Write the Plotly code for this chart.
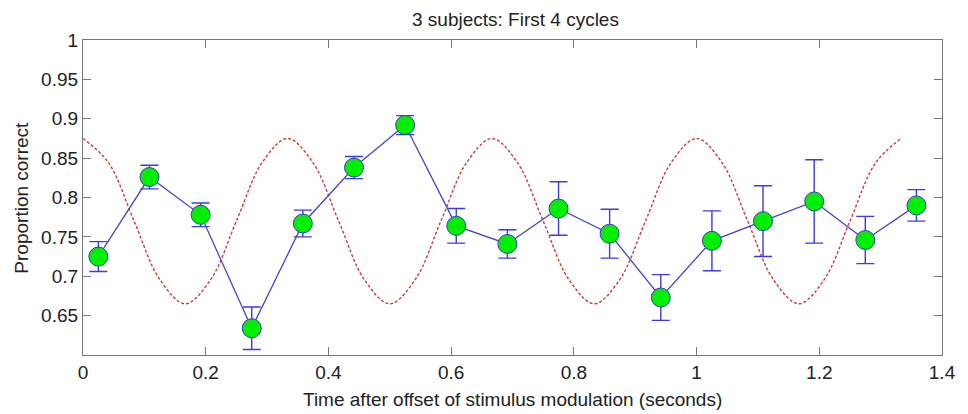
import plotly.graph_objects as go

# Data
time_s = [0.025, 0.1083, 0.1917, 0.275, 0.3583, 0.4417, 0.525, 0.6083, 0.6917,
          0.775, 0.8583, 0.9417, 1.025, 1.1083, 1.1917, 1.275, 1.3583]
prop_correct = [0.725, 0.826, 0.778, 0.634, 0.767, 0.838, 0.892, 0.764, 0.741,
                0.786, 0.754, 0.673, 0.745, 0.770, 0.795, 0.746, 0.790]
err = [0.019, 0.015, 0.015, 0.027, 0.017, 0.014, 0.012, 0.022, 0.018,
       0.034, 0.031, 0.029, 0.038, 0.045, 0.053, 0.030, 0.020]

mod_time = [0.0, 0.0417, 0.0833, 0.125, 0.1667, 0.2083, 0.25, 0.2917,
            0.3333, 0.375, 0.4167, 0.4583, 0.5, 0.5417, 0.5833, 0.625,
            0.6667, 0.7083, 0.75, 0.7917, 0.8333, 0.875, 0.9167, 0.9583,
            1.0, 1.0417, 1.0833, 1.125, 1.1667, 1.2083, 1.25, 1.2917, 1.3333]
mod_level = [0.875, 0.844, 0.770, 0.696, 0.665, 0.696, 0.770, 0.844,
             0.875, 0.844, 0.770, 0.696, 0.665, 0.696, 0.770, 0.844,
             0.875, 0.844, 0.770, 0.696, 0.665, 0.696, 0.770, 0.844,
             0.875, 0.844, 0.770, 0.696, 0.665, 0.696, 0.770, 0.844, 0.875]

x_ticks = [0, 0.2, 0.4, 0.6, 0.8, 1.0, 1.2, 1.4]
x_tick_text = ["0", "0.2", "0.4", "0.6", "0.8", "1", "1.2", "1.4"]
y_ticks = [0.65, 0.7, 0.75, 0.8, 0.85, 0.9, 0.95, 1.0]
y_tick_text = ["0.65", "0.7", "0.75", "0.8", "0.85", "0.9", "0.95", "1"]

FONT = "Liberation Sans, Arial, sans-serif"
FS = 19

fig = go.Figure()
fig.add_trace(go.Scatter(
    x=mod_time, y=mod_level, mode="lines",
    line=dict(color="#cc3a3a", width=1.4, dash="3px,2px", shape="spline", smoothing=1.0),
    hoverinfo="skip", showlegend=False))
fig.add_trace(go.Scatter(
    x=time_s, y=prop_correct, mode="lines+markers",
    line=dict(color="#4646c8", width=1.3),
    marker=dict(size=19, color="#00ee00", line=dict(color="#3c3cb4", width=1)),
    error_y=dict(type="data", array=err, visible=True, color="#3c3cdc",
                 thickness=1.4, width=9),
    showlegend=False))

axis_common = dict(showline=True, linecolor="#777777", linewidth=1.3, mirror="ticks",
                   ticks="inside", ticklen=8, tickcolor="#777777", tickwidth=1.3,
                   showgrid=False, zeroline=False,
                   tickfont=dict(family=FONT, size=FS, color="#222222"))

fig.update_xaxes(range=[0, 1.4], tickvals=x_ticks, ticktext=x_tick_text, **axis_common)
fig.update_yaxes(range=[0.6, 1.0], tickvals=y_ticks, ticktext=y_tick_text, **axis_common)

fig.update_layout(
    width=968, height=414,
    margin=dict(l=83, r=20, t=40, b=59),
    paper_bgcolor="white", plot_bgcolor="white",
    title=dict(text="3 subjects: First 4 cycles", x=0.5325, xanchor="center",
               y=1 - 19 / 414, yanchor="middle", yref="container",
               font=dict(family=FONT, size=FS, color="#222222")),
    annotations=[
        dict(text="Time after offset of stimulus modulation (seconds)",
             xref="paper", yref="paper", x=0.5, y=-0.14, yanchor="middle",
             xanchor="center", showarrow=False,
             font=dict(family=FONT, size=FS, color="#222222")),
        dict(text="Proportion correct", textangle=-90,
             xref="paper", yref="paper", x=-0.072, y=0.5, xanchor="center",
             yanchor="middle", showarrow=False,
             font=dict(family=FONT, size=FS, color="#222222")),
    ],
)

fig.write_html("out.html")
